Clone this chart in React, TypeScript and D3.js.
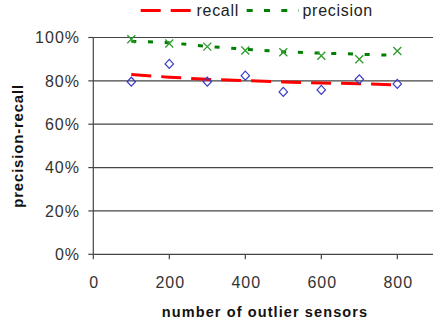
import React from "react";
import * as d3 from "d3";

// values
const sensors = [100, 200, 300, 400, 500, 600, 700, 800];
const recall = [79.6, 87.8, 79.6, 82.4, 74.9, 75.8, 80.7, 78.6];
const precision = [99.2, 97.2, 95.8, 94.0, 93.2, 91.6, 90.0, 93.8];
const recallTrend = [82.9, 81.7, 80.7, 80.1, 79.5, 79.0, 78.7, 78.1];
const precisionTrend = [98.3, 97.6, 95.9, 94.6, 93.4, 92.8, 92.3, 91.7];
const xTicks = [0, 200, 400, 600, 800];
const yTicks = [0, 20, 40, 60, 80, 100];

const W = 433;
const H = 329;
const left = 93.3;
const top = 37.5;
const bottom = 254.3;
const font = "'Liberation Sans', Arial, sans-serif";

export default function App() {
	const x = d3.scaleLinear().domain([0, 900]).range([left, left + 900 * 0.38]);
	const y = d3.scaleLinear().domain([0, 100]).range([bottom, top]);
	const line = d3
		.line<number>()
		.x((_, i) => x(sensors[i]))
		.y((d) => y(d));
	const right = W;

	return (
		<svg width={W} height={H} style={{ position: "absolute", left: 0, top: 0, background: "#fff" }} fontFamily={font}>
			{/* gridlines */}
			{yTicks.map((t) => (
				<g key={"gy" + t}>
					<line x1={left} x2={right} y1={y(t)} y2={y(t)} stroke="#444" strokeWidth={1.2} />
					<line x1={left - 5} x2={left} y1={y(t)} y2={y(t)} stroke="#444" strokeWidth={1.2} />
					<text x={80} y={y(t)} dy="0.36em" textAnchor="end" fontSize={16} letterSpacing={1} fill="#333">
						{t + "%"}
					</text>
				</g>
			))}
			<line x1={left} x2={left} y1={top} y2={bottom} stroke="#444" strokeWidth={1.2} />
			{xTicks.map((t) => (
				<g key={"gx" + t}>
					<line x1={x(t)} x2={x(t)} y1={bottom} y2={bottom + 5} stroke="#444" strokeWidth={1.2} />
					<text x={x(t) + 1} y={288} textAnchor="middle" fontSize={16} letterSpacing={1} fill="#333">
						{t}
					</text>
				</g>
			))}

			{/* trend lines */}
			<path d={line(recallTrend) || ""} fill="none" stroke="#ff0000" strokeWidth={3} strokeDasharray="20 10" />
			<path d={line(precisionTrend) || ""} fill="none" stroke="#008000" strokeWidth={3} strokeDasharray="5 11.7" />

			{/* recall diamonds */}
			{recall.map((v, i) => {
				const cx = x(sensors[i]);
				const cy = y(v);
				return (
					<path
						key={"r" + i}
						d={`M${cx},${cy - 4.5}L${cx + 4.2},${cy}L${cx},${cy + 4.5}L${cx - 4.2},${cy}Z`}
						fill="none"
						stroke="#3a3ac8"
						strokeWidth={1.2}
					/>
				);
			})}
			{/* precision crosses */}
			{precision.map((v, i) => {
				const cx = x(sensors[i]);
				const cy = y(v);
				return (
					<path
						key={"p" + i}
						d={`M${cx - 4},${cy - 4}L${cx + 4},${cy + 4}M${cx - 4},${cy + 4}L${cx + 4},${cy - 4}`}
						stroke="#2e9a2e"
						strokeWidth={1.3}
					/>
				);
			})}

			{/* legend */}
			<line x1={140.7} x2={190.7} y1={10.5} y2={10.5} stroke="#ff0000" strokeWidth={3} strokeDasharray="20 10" />
			<text x={196.5} y={15.5} fontSize={16} letterSpacing={0.7} fill="#222">
				recall
			</text>
			<line x1={246.7} x2={299} y1={10.5} y2={10.5} stroke="#008000" strokeWidth={3} strokeDasharray="6 11.3" />
			<text x={302.5} y={15.5} fontSize={16} letterSpacing={0.7} fill="#222">
				precision
			</text>

			{/* axis titles */}
			<text x={265} y={316.5} textAnchor="middle" fontSize={14.5} fontWeight="bold" letterSpacing={1.1} fill="#111">
				number of outlier sensors
			</text>
			<text
				transform={`translate(23,${(top + bottom) / 2}) rotate(-90)`}
				textAnchor="middle"
				fontSize={15}
				fontWeight="bold"
				letterSpacing={0.8}
				fill="#111"
			>
				precision-recall
			</text>
		</svg>
	);
}
